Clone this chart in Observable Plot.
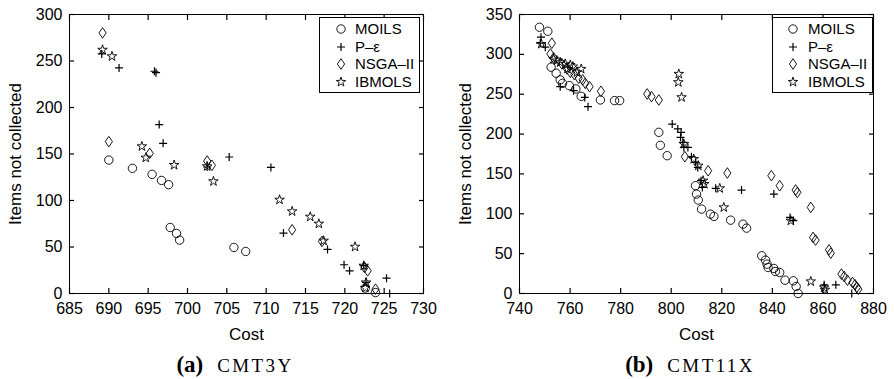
<!DOCTYPE html>
<html>
<head>
<meta charset="utf-8">
<script src="https://cdn.jsdelivr.net/npm/d3@7"></script>
<script src="https://cdn.jsdelivr.net/npm/@observablehq/plot@0.6"></script>
<style>
  html, body { margin: 0; padding: 0; background: #fff; }
  #wrap { display: flex; width: 894px; height: 379px; overflow: hidden; }
  .panel { position: relative; width: 447px; height: 379px; }
  .legend { position: absolute; top: 17px; width: 101px; height: 76px; box-sizing: border-box;
            border: 1.3px solid #000; background: #fff; font-family: "Liberation Sans", Arial, sans-serif;
            font-size: 15px; color: #000; padding-top: 2px; }
  .legend .row { position: relative; height: 17.7px; line-height: 17.7px; }
  .legend .sym { position: absolute; top: 0; }
  .legend span { position: absolute; left: 35px; top: 0; }
  .caption { position: absolute; top: 348px; left: 0; width: 447px; height: 34px; line-height: 34px;
             text-align: center; color: #000; white-space: nowrap; }
  .caption b { font-family: "Liberation Serif", "Times New Roman", serif; font-size: 23px; font-weight: bold; }
  .caption i { font-style: normal; font-family: "Liberation Serif", "Times New Roman", serif; font-size: 19px;
               letter-spacing: 2.4px; margin-left: 14px; }
</style>
</head>
<body>
<div id="wrap"></div>
<script>
// ---------- data ----------
const seriesNames = ["MOILS", "P–ε", "NSGA-II", "IBMOLS"];
const legendLabels = ["MOILS", "P–ε", "NSGA–II", "IBMOLS"];
const captionsLetter = ["(a)", "(b)"];
const captionsName = ["CMT3Y", "CMT11X"];
const xLabel = "Cost";
const yLabel = "Items not collected";

const xTicksA = [685, 690, 695, 700, 705, 710, 715, 720, 725, 730];
const yTicksA = [0, 50, 100, 150, 200, 250, 300];
const xTicksB = [740, 760, 780, 800, 820, 840, 860, 880];
const yTicksB = [0, 50, 100, 150, 200, 250, 300, 350];

// Panel (a) CMT3Y : [cost, items not collected]
const moilsA = [[690.0,143.5],[693.0,134.6],[695.5,128.1],[696.7,121.6],[697.6,117],[697.8,71],[698.6,64.6],[699.0,57.4],[705.9,49.5],[707.4,45.2],[722.6,5.8],[723.9,1]];
const pepsA = [[689.1,257.6],[691.3,242.6],[695.8,239],[696.0,237.5],[696.4,181.6],[696.9,161.5],[702.5,136],[705.3,146.8],[710.6,135.6],[712.2,65],[717.8,47.4],[719.9,30.9],[720.6,24.4],[722.4,30],[722.7,12],[725.3,16.5],[725.7,0]];
const nsgaA = [[689.2,280.2],[690.0,163.3],[695.2,150.7],[702.5,142.4],[703.1,137.8],[713.3,68.5],[717.1,56],[722.5,28],[722.9,24.4],[723.9,4.7]];
const ibmolsA = [[689.2,262],[690.4,255],[694.2,158.2],[694.7,146],[698.3,138.1],[702.5,136.7],[703.3,120.6],[711.7,100.8],[713.3,88.3],[715.6,82.5],[716.7,75],[717.3,56.7],[721.3,50.2],[722.4,29.8],[722.7,11.8],[722.6,6]];

// Panel (b) CMT11X
const moilsB = [[747.9,334],[751.2,329],[752.5,283.9],[754.5,276.3],[756.1,268],[757.0,263.7],[759.7,260.8],[762.3,256.6],[764.4,247.4],[772.0,242.8],[777.6,242],[779.6,242],[795.1,202.2],[795.7,185.9],[798.4,172.9],[809.6,135.2],[810.0,124.7],[810.7,117.2],[812.0,105.9],[815.5,99.6],[816.9,96.7],[823.5,92],[828.4,87],[829.8,82],[835.8,47.3],[837.3,41.9],[837.9,36.8],[838.3,32.6],[840.6,31.4],[841.2,27.6],[842.9,26.4],[845.0,16.7],[848.3,15.9],[849.4,8.8],[850.2,0]];
const pepsB = [[748.5,321.5],[748.2,314],[750.2,309],[756.1,259.5],[761.4,254.5],[765.8,246],[767.1,234.4],[800.4,212.6],[802.6,206.4],[803.9,202.2],[803.7,195.9],[804.6,189.6],[805.0,183.3],[806.6,183.3],[808.0,171.6],[809.6,164.5],[810.5,158.2],[811.8,141.5],[812.3,133.1],[817.6,131.9],[827.8,129.8],[840.6,124.7],[847.0,95.4],[848.3,91.3],[860.5,10.9],[865.1,10.9],[871.4,0]];
const nsgaB = [[752.8,314],[752.2,300.5],[753.5,295.5],[756.8,288],[758.8,281.7],[760.1,277.5],[761.7,274.6],[763.4,270],[765.0,268],[766.0,263.7],[767.7,259.5],[772.2,253.7],[790.5,250.3],[792.2,247],[795.1,242.8],[805.4,171.6],[814.6,154],[822.2,151.1],[839.6,147.8],[842.9,135.2],[849.2,129.8],[849.9,126.8],[855.2,108],[856.1,70.3],[857.1,67],[862.4,54.8],[863.1,50.6],[867.3,24.3],[868.4,21.3],[869.7,16.7],[871.7,13.8],[872.7,10.9],[873.4,7.5],[874.0,5.4]];
const ibmolsB = [[748.6,313],[753.5,294.3],[754.8,292.2],[756.1,290],[758.1,288],[760.1,286.7],[761.1,284.6],[764.4,281.7],[759.0,281.7],[762.7,277.5],[803.0,275.4],[802.8,265],[804.1,246.1],[805.0,187.5],[808.9,168.7],[810.7,160.3],[812.6,141.5],[813.1,137.3],[819.2,131.9],[820.8,108],[847.3,91.3],[855.2,15.1],[860.5,7.5],[860.8,4.6]];

// ---------- drawing ----------
const wideDiamond = {
  draw(context, size) {
    const hh = Math.sqrt(size / 1.36), hw = 0.68 * hh;
    context.moveTo(0, -hh); context.lineTo(hw, 0); context.lineTo(0, hh); context.lineTo(-hw, 0); context.closePath();
  }
};
const symbolSpec = [
  {symbol: d3.symbolCircle, r: 4.2, sw: 0.9},
  {symbol: d3.symbolPlus, r: 2.7, sw: 1.2},
  {symbol: wideDiamond, r: 3.5, sw: 0.9},
  {symbol: d3.symbolStar, r: 3.0, sw: 0.9}
];

const W = 447, H = 345, MT = 14, MB = 52, TICK = 5;

function makePanel(cfg) {
  const {xDomain, yDomain, xTicks, yTicks, data, marginLeft, marginRight} = cfg;
  const dots = data.map((arr, i) => Plot.dot(arr, {
    x: d => d[0], y: d => d[1], symbol: symbolSpec[i].symbol, r: symbolSpec[i].r,
    stroke: "#000", fill: "none", strokeWidth: symbolSpec[i].sw
  }));
  const noText = () => "";
  const ff = "Liberation Sans, Arial, sans-serif";
  const tk = {tickSize: TICK, tickFormat: noText, label: null, stroke: "#000", strokeWidth: 1.2};
  return Plot.plot({
    width: W, height: H,
    marginTop: MT, marginBottom: MB, marginLeft, marginRight,
    x: {domain: xDomain},
    y: {domain: yDomain},
    marks: [
      Plot.frame({stroke: "#000", strokeWidth: 1}),
      // inward ticks: ordinary outward axis ticks shifted inside the frame by their own length
      Plot.axisX(xTicks, {anchor: "bottom", dy: -TICK, ...tk}),
      Plot.axisX(xTicks, {anchor: "top", dy: TICK, ...tk}),
      Plot.axisY(yTicks, {anchor: "left", dx: TICK, ...tk}),
      Plot.axisY(yTicks, {anchor: "right", dx: -TICK, ...tk}),
      // tick labels
      Plot.axisX(xTicks, {anchor: "bottom", tickSize: 0, tickPadding: 9, fontSize: 16, fontFamily: ff, label: null}),
      Plot.axisY(yTicks, {anchor: "left", tickSize: 0, tickPadding: 7, fontSize: 16, fontFamily: ff, label: null}),
      // axis titles
      Plot.axisX(xTicks, {anchor: "bottom", tickSize: 0, tickFormat: noText, fontSize: 17, fontFamily: ff, label: xLabel, labelAnchor: "center", labelArrow: "none", labelOffset: 46}),
      Plot.axisY(yTicks, {anchor: "left", tickSize: 0, tickFormat: noText, fontSize: 17, fontFamily: ff, label: yLabel, labelAnchor: "center", labelArrow: "none", labelOffset: 61}),
      ...dots
    ]
  });
}

function makeLegend(left, symX) {
  const div = document.createElement("div");
  div.className = "legend";
  div.style.left = left + "px";
  legendLabels.forEach((lab, i) => {
    const row = document.createElement("div");
    row.className = "row";
    const s = symbolSpec[i];
    const size = Math.PI * s.r * s.r;
    const svg = d3.create("svg").attr("class", "sym").attr("width", 16).attr("height", 18)
      .style("left", (symX - 8) + "px");
    svg.append("path").attr("transform", "translate(8,9)")
      .attr("d", d3.symbol(s.symbol, size)())
      .attr("fill", "none").attr("stroke", "#000").attr("stroke-width", s.sw);
    row.appendChild(svg.node());
    const t = document.createElement("span");
    t.textContent = lab;
    row.appendChild(t);
    div.appendChild(row);
  });
  return div;
}

const wrap = document.getElementById("wrap");
const cfgs = [
  {xDomain: [685, 730], yDomain: [0, 300], xTicks: xTicksA, yTicks: yTicksA, data: [moilsA, pepsA, nsgaA, ibmolsA], marginLeft: 69, marginRight: 24, legendLeft: 319, symX: 21, capShift: 23},
  {xDomain: [740, 880], yDomain: [0, 350], xTicks: xTicksB, yTicks: yTicksB, data: [moilsB, pepsB, nsgaB, ibmolsB], marginLeft: 72, marginRight: 21, legendLeft: 325, symX: 20, capShift: 39}
];
cfgs.forEach((cfg, k) => {
  const p = document.createElement("div");
  p.className = "panel";
  const svg = makePanel(cfg);
  svg.style.color = "#000";
  svg.style.background = "#fff";
  p.appendChild(svg);
  p.appendChild(makeLegend(cfg.legendLeft, cfg.symX));
  const cap = document.createElement("div");
  cap.className = "caption";
  cap.style.paddingLeft = cfg.capShift + "px";
  cap.style.width = (447 - cfg.capShift) + "px";
  cap.innerHTML = "<b></b><i></i>";
  cap.querySelector("b").textContent = captionsLetter[k];
  cap.querySelector("i").textContent = captionsName[k];
  p.appendChild(cap);
  wrap.appendChild(p);
});
</script>
</body>
</html>
